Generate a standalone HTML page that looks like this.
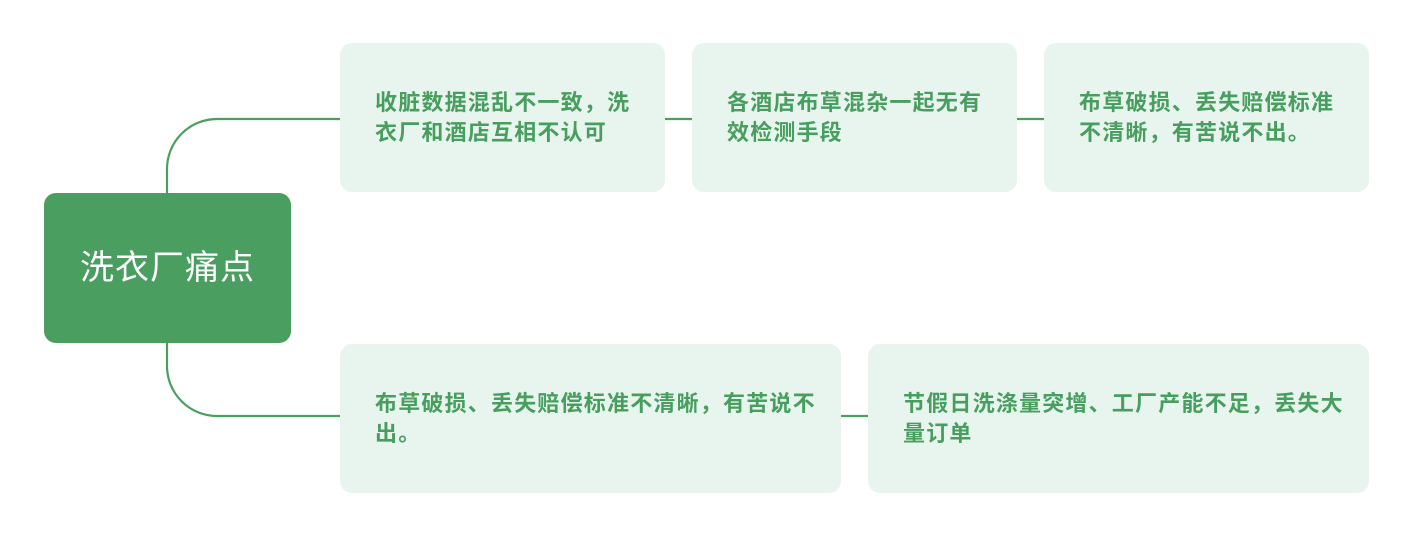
<!DOCTYPE html>
<html><head><meta charset="utf-8"><style>
body{margin:0;width:1422px;height:556px;background:#fff;position:relative;overflow:hidden;font-family:"Liberation Sans","Noto Sans CJK SC",sans-serif}
.b{position:absolute;background:#e8f5ee;border-radius:12px;color:#479e5f;font-size:22px;font-weight:bold;letter-spacing:1.2px;line-height:30px;box-sizing:border-box;padding:45px 20px 0 35px}
.root{position:absolute;left:44px;top:193px;width:247px;height:150px;background:#4a9e5f;border-radius:12px;color:#fff;font-size:34px;line-height:150px;text-align:center;letter-spacing:1px}
svg{position:absolute;left:0;top:0}
</style></head><body>
<svg width="1422" height="556"><g fill="none" stroke="#4a9e5f" stroke-width="2.2">
<path d="M167 193 V169 A50 50 0 0 1 217 119 H340"/>
<path d="M167 343 V366 A50 50 0 0 0 217 416 H340"/>
<path d="M665 119 H692 M1017 119 H1044 M841 416 H868"/>
</g></svg>
<div class="root">洗衣厂痛点</div>
<div class="b" style="left:340px;top:43px;width:325px;height:149px">收脏数据混乱不一致，洗衣厂和酒店互相不认可</div>
<div class="b" style="left:692px;top:43px;width:325px;height:149px">各酒店布草混杂一起无有效检测手段</div>
<div class="b" style="left:1044px;top:43px;width:325px;height:149px">布草破损、丢失赔偿标准不清晰，有苦说不出。</div>
<div class="b" style="left:340px;top:344px;width:501px;height:149px">布草破损、丢失赔偿标准不清晰，有苦说不出。</div>
<div class="b" style="left:868px;top:344px;width:501px;height:149px">节假日洗涤量突增、工厂产能不足，丢失大量订单</div>
</body></html>
